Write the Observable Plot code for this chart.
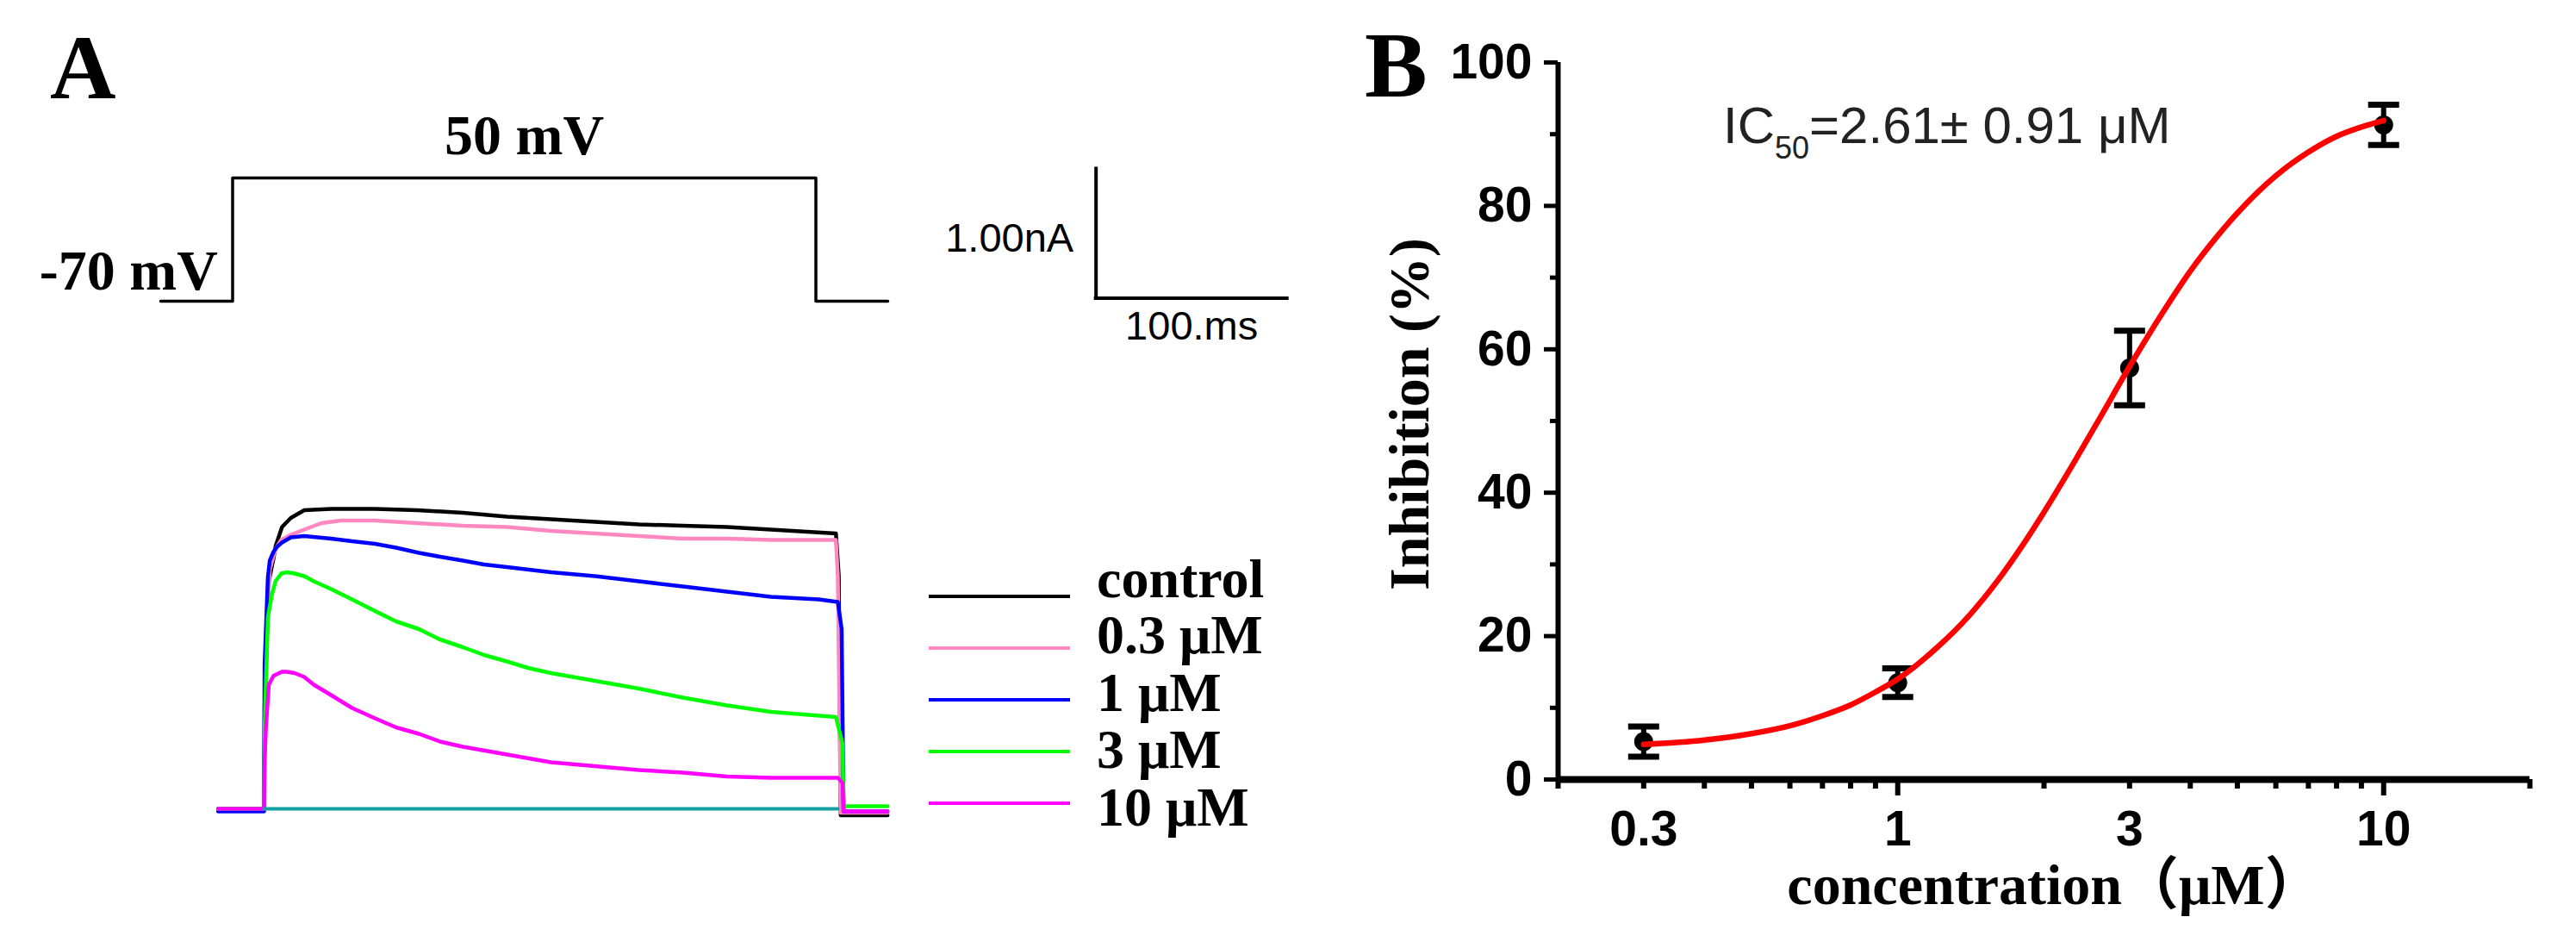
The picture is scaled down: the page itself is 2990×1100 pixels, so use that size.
<!DOCTYPE html>
<html><head><meta charset="utf-8">
<script src="https://cdn.jsdelivr.net/npm/d3@7"></script>
<script src="https://cdn.jsdelivr.net/npm/@observablehq/plot@0.6"></script>
<style>
html,body{margin:0;padding:0;background:#fff;}
#root{position:relative;width:2990px;height:1100px;overflow:hidden;background:#fff;}
.abs{position:absolute;line-height:1;white-space:nowrap;}
.serifb{font-family:"Liberation Serif","Times New Roman",serif;font-weight:bold;}
.sans{font-family:"Liberation Sans",Arial,sans-serif;}
</style></head><body><div id="root"></div>
<script>
// ---------- Panel A data: current traces (time ms, current nA) ----------
const traceNames = ["control", "0.3 μM", "1 μM", "3 μM", "10 μM"];
const traceColors = ["#000000", "#ff88c0", "#0000ff", "#00ff00", "#ff00ff"];
const traceControl = [[-24,0],[0,0],[0.3,0.8],[2.5,1.76],[5,1.94],[6,2.03],[9.4,2.18],[14,2.25],[21,2.31],[35,2.32],[58,2.32],[80,2.31],[104,2.29],[127,2.26],[150,2.24],[173,2.22],[196,2.2],[219,2.19],[242,2.18],[265,2.16],[299,2.13],[300.5,1.8],[301.5,-0.05],[326,-0.05]];
const trace03 = [[-24,0],[0,0],[0.3,0.4],[1,1.34],[3,1.85],[6,2.01],[9,2.08],[14,2.12],[21,2.16],[30,2.21],[40,2.23],[58,2.23],[80,2.21],[104,2.19],[127,2.18],[150,2.15],[173,2.13],[196,2.11],[219,2.09],[242,2.09],[265,2.08],[299,2.08],[300,1.8],[301.5,-0.03],[326,-0.03]];
const trace1 = [[-24,-0.02],[0,-0.02],[0.3,1.12],[2,1.79],[3,1.92],[5,1.99],[7,2.03],[9.4,2.06],[14,2.1],[21,2.11],[35,2.09],[46,2.07],[58,2.05],[69,2.02],[81,1.98],[92,1.95],[104,1.92],[115,1.89],[127,1.87],[150,1.83],[173,1.8],[196,1.76],[219,1.72],[242,1.68],[265,1.64],[290,1.62],[300,1.6],[302,1.39],[303,-0.02],[326,-0.02]];
const trace3 = [[-24,0],[0,0],[0.3,0.63],[2,1.48],[4,1.65],[6,1.76],[9,1.82],[12,1.83],[16,1.82],[21,1.8],[26,1.76],[35,1.7],[46,1.62],[58,1.53],[69,1.45],[81,1.39],[92,1.31],[104,1.25],[115,1.19],[127,1.14],[138,1.09],[150,1.05],[173,0.99],[196,0.93],[219,0.86],[242,0.8],[265,0.75],[299,0.71],[302.5,0.5],[303,0.02],[326,0.02]];
const trace10 = [[-24,0],[0,0],[0.3,0.37],[1,0.63],[2.5,0.96],[5,1.03],[9.4,1.06],[12,1.06],[16,1.05],[21,1.02],[26,0.96],[35,0.88],[46,0.78],[58,0.7],[69,0.63],[81,0.58],[92,0.52],[104,0.48],[127,0.42],[150,0.36],[173,0.33],[196,0.3],[219,0.28],[242,0.25],[265,0.24],[300,0.24],[302.5,0.2],[303,-0.02],[326,-0.02]];
const zeroLine = [[0,0],[300,0]];
const zeroColor = "#12a0a0";

// voltage protocol (ms, mV)
const protocolT = [-37, 0, 0, 300, 300, 337];
const protocolV = [-70, -70, 50, 50, -70, -70];

// scale bar: 100 ms, 1.00 nA
const scaleBar = {t: 435, i: 3.95, dt: 100, di: 1, tLabel: "100.ms", iLabel: "1.00nA"};

// ---------- Panel B data ----------
const conc = [0.3, 1, 3, 10];
const inhMean = [5.3, 13.5, 57.4, 91.3];
const inhSem = [2.1, 2.0, 5.2, 2.8];
const fitConc = [0.3,0.4,0.5,0.6,0.7,0.8,0.9,1.0,1.2,1.4,1.6,1.8,2.0,2.3,2.6,3.0,3.5,4.0,4.5,5.0,6.0,7.0,8.0,9.0,10.0];
const fitInh  = [4.9,5.5,6.4,7.5,8.9,10.4,12.2,14.0,18.3,22.8,27.6,32.5,37.3,44.1,50.3,57.6,65.0,70.9,75.4,79.0,84.2,87.5,89.7,91.0,91.9];
const yTicks = [0, 20, 40, 60, 80, 100];
const yMinor = [10, 30, 50, 70, 90];
const xLabelTicks = [0.3, 1, 3, 10];
const xMajor = [1, 10];
const xMinor = [0.2,0.3,0.4,0.5,0.6,0.7,0.8,0.9,2,3,4,5,6,7,8,9,20];
const xDomain = [0.2, 20];
const yDomain = [0, 100];

const root = document.getElementById("root");
const SERIF = '"Liberation Serif","Times New Roman",serif';
const SERIF_CJK = '"Liberation Serif","Noto Sans CJK SC",serif';
const SANS = '"Liberation Sans",Arial,sans-serif';

function place(el, left, top) {
  el.style.position = "absolute"; el.style.left = left + "px"; el.style.top = top + "px";
  root.appendChild(el);
}

// ---------- Panel letters & annotation ----------
const labA = document.createElement("div"); labA.className = "abs serifb"; labA.style.fontSize = "106px"; labA.textContent = "A";
place(labA, 58, 26);
const labB = document.createElement("div"); labB.className = "abs serifb"; labB.style.fontSize = "109px"; labB.textContent = "B";
place(labB, 1584, 21);
const ic = document.createElement("div"); ic.className = "abs sans"; ic.style.fontSize = "60px"; ic.style.color = "#222";
ic.innerHTML = 'IC<span style="font-size:36px;position:relative;top:18px">50</span>=2.61± 0.91 μM';
place(ic, 2000, 116);

// ---------- Panel A: traces ----------
const traces = [traceControl, trace03, trace1, trace3, trace10];
const plotA = Plot.plot({
  width: 1560, height: 1100, margin: 0,
  style: {background: "transparent", overflow: "visible"},
  x: {domain: [-24, 326], range: [252.7, 1029.7], axis: null},
  y: {domain: [0, 1], range: [938, 788], axis: null},
  marks: [
    ...traces.map((tr, k) => Plot.line(tr, {x: d => d[0], y: d => d[1], stroke: traceColors[k], strokeWidth: 4.5})),
    Plot.line(zeroLine, {x: d => d[0], y: d => d[1], stroke: zeroColor, strokeWidth: 4}),
    Plot.ruleY([scaleBar], {x1: d => d.t, x2: d => d.t + d.dt, y: d => d.i, strokeWidth: 4, strokeLinecap: "square"}),
    Plot.ruleX([scaleBar], {x: d => d.t, y1: d => d.i, y2: d => d.i + d.di, strokeWidth: 4, strokeLinecap: "square"}),
    Plot.text([scaleBar], {x: d => d.t, y: d => d.i + d.di / 2, text: d => d.iLabel, textAnchor: "end", dx: -26, dy: 6, fontSize: 47, fontFamily: SANS, fill: "#000"}),
    Plot.text([scaleBar], {x: d => d.t + d.dt / 2, y: d => d.i, text: d => d.tLabel, lineAnchor: "top", dy: 15, fontSize: 47, fontFamily: SANS, fill: "#000"})
  ]
});
place(plotA, 0, 0);

// ---------- Panel A: voltage protocol ----------
const protoIdx = d3.range(protocolT.length);
const pulse = {mid: (protocolT[2] + protocolT[3]) / 2, step: protocolV[2], start: protocolT[1], hold: protocolV[0]};
const plotP = Plot.plot({
  width: 1060, height: 400, margin: 0,
  style: {background: "transparent", overflow: "visible"},
  x: {domain: [protocolT[0], protocolT[protocolT.length - 1]], range: [186, 1030], axis: null},
  y: {domain: [-70, 50], range: [349, 206], axis: null},
  marks: [
    Plot.line(protoIdx, {x: i => protocolT[i], y: i => protocolV[i], stroke: "#000", strokeWidth: 3.5}),
    Plot.text([pulse], {x: d => d.mid, y: d => d.step, text: d => d.step + " mV", lineAnchor: "bottom", dy: -28, fontSize: 66, fontWeight: "bold", fontFamily: SERIF}),
    Plot.text([pulse], {x: d => d.start, y: d => d.hold, text: d => d.hold + " mV", textAnchor: "end", lineAnchor: "bottom", dx: -17, dy: -14, fontSize: 66, fontWeight: "bold", fontFamily: SERIF})
  ]
});
place(plotP, 0, 0);

// ---------- Panel A: legend ----------
const leg = d3.create("svg").attr("width", 480).attr("height", 420);
const legLineY = [92, 152, 212, 272, 332];
const legTextY = [93, 158, 225, 291, 358];
traceNames.forEach((name, k) => {
  leg.append("line").attr("x1", 18).attr("x2", 182).attr("y1", legLineY[k]).attr("y2", legLineY[k])
    .attr("stroke", traceColors[k]).attr("stroke-width", 4);
  leg.append("text").attr("x", 213).attr("y", legTextY[k]).text(name)
    .attr("font-family", SERIF).attr("font-weight", "bold").attr("font-size", 64).attr("fill", "#000");
});
place(leg.node(), 1060, 600);

// ---------- Panel B ----------
const pts = conc.map((c, i) => ({c, m: inhMean[i], s: inhSem[i]}));
const fit = fitConc.map((c, i) => ({c, v: fitInh[i]}));
const capSymbol = {draw(ctx) { ctx.moveTo(-18, 0); ctx.lineTo(18, 0); }};
const blank = () => "";
const plotB = Plot.plot({
  width: 1430, height: 1100,
  marginLeft: 248, marginRight: 54, marginTop: 72, marginBottom: 196,
  style: {background: "transparent", overflow: "visible", fontFamily: SANS},
  x: {type: "log", domain: xDomain, axis: null, label: null},
  y: {domain: yDomain, axis: null, label: null},
  marks: [
    Plot.ruleX([xDomain[0]], {y1: yDomain[0], y2: yDomain[1], strokeWidth: 6}),
    Plot.ruleY([yDomain[0]], {x1: xDomain[0], x2: xDomain[1], strokeWidth: 8}),
    Plot.axisY({ticks: yTicks, tickSize: 16, tickPadding: 14, fontSize: 57, fontWeight: "bold", strokeWidth: 5, label: null, tickFormat: d => String(d)}),
    Plot.axisY({ticks: yMinor, tickSize: 9, strokeWidth: 5, label: null, tickFormat: blank}),
    Plot.axisX({ticks: xMajor, tickSize: 19, strokeWidth: 6, label: null, tickFormat: blank}),
    Plot.axisX({ticks: xMinor, tickSize: 11, strokeWidth: 6, label: null, tickFormat: blank}),
    Plot.axisX({ticks: xLabelTicks, tickSize: 0, tickPadding: 36, fontSize: 57, fontWeight: "bold", label: null, tickFormat: d => String(d)}),
    Plot.ruleX(pts, {x: "c", y1: d => d.m - d.s, y2: d => d.m + d.s, strokeWidth: 6}),
    Plot.dot(pts, {x: "c", y: d => d.m + d.s, symbol: capSymbol, fill: "none", stroke: "#000", strokeWidth: 7}),
    Plot.dot(pts, {x: "c", y: d => d.m - d.s, symbol: capSymbol, fill: "none", stroke: "#000", strokeWidth: 7}),
    Plot.dot(pts, {x: "c", y: "m", r: 11, fill: "#000"}),
    Plot.line(fit, {x: "c", y: "v", stroke: "#ff0000", strokeWidth: 6.5, curve: "monotone-x"}),
    Plot.text(["Inhibition (%)"], {frameAnchor: "left", textAnchor: "middle", lineAnchor: "middle", rotate: -90, dx: -172, dy: -8, fontSize: 66, fontWeight: "bold", fontFamily: SERIF}),
    Plot.text(["concentration（μM）"], {frameAnchor: "bottom", textAnchor: "middle", lineAnchor: "bottom", dx: 12, dy: 144, fontSize: 66, fontWeight: "bold", fontFamily: SERIF_CJK})
  ]
});
place(plotB, 1560, 0);
</script></body></html>
